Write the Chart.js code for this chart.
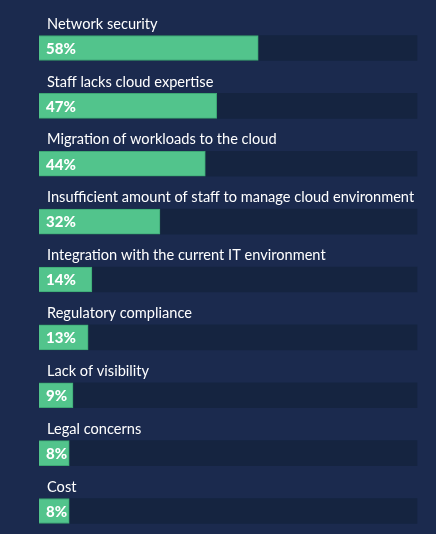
<!DOCTYPE html>
<html>
<head>
<meta charset="utf-8">
<script src="https://cdn.jsdelivr.net/npm/chart.js@4"></script>
<style>
  html, body { margin: 0; padding: 0; background: #1b2a4e; }
  canvas { display: block; }
</style>
</head>
<body>
<canvas id="challengesChart" width="436" height="534"></canvas>
<script>
var categories = [
    'Network security',
    'Staff lacks cloud expertise',
    'Migration of workloads to the cloud',
    'Insufficient amount of staff to manage cloud environment',
    'Integration with the current IT environment',
    'Regulatory compliance',
    'Lack of visibility',
    'Legal concerns',
    'Cost'
];
var percentValues = [58, 47, 44, 32, 14, 13, 9, 8, 8];
var trackValues = [100, 100, 100, 100, 100, 100, 100, 100, 100];

// draws the category name above each bar and the percentage inside it
var barLabels = {
    id: 'barLabels',
    afterDatasetsDraw: function (chart) {
        var ctx = chart.ctx;
        var meta = chart.getDatasetMeta(0);
        ctx.save();
        ctx.fillStyle = '#ffffff';
        ctx.textBaseline = 'middle';
        meta.data.forEach(function (bar, i) {
            ctx.font = '14.6px Lato';
            ctx.fillText(categories[i], 47, bar.y - 24);
            ctx.font = '900 15px Lato';
            ctx.fillText(percentValues[i] + '%', 46, bar.y + 1);
        });
        ctx.restore();
    }
};

var ctx = document.getElementById('challengesChart').getContext('2d');
var challengesChart = new Chart(ctx, {
    type: 'bar',
    data: {
        labels: categories,
        datasets: [{
            data: percentValues,
            backgroundColor: '#52c48c',
            borderColor: '#3da874',
            borderWidth: 1,
            barThickness: 25,
            grouped: false,
            clip: false,
            order: 0
        }, {
            data: trackValues,
            backgroundColor: '#152440',
            borderWidth: 0,
            barThickness: 25,
            grouped: false,
            clip: false,
            order: 1
        }]
    },
    options: {
        indexAxis: 'y',
        responsive: false,
        animation: false,
        layout: {
            padding: { left: 39, right: 19, top: 48, bottom: 23 }
        },
        scales: {
            x: { display: false, min: 0, max: 100 },
            y: { display: false, offset: false }
        },
        plugins: {
            legend: { display: false },
            tooltip: { enabled: false }
        }
    },
    plugins: [barLabels]
});
</script>
</body>
</html>
